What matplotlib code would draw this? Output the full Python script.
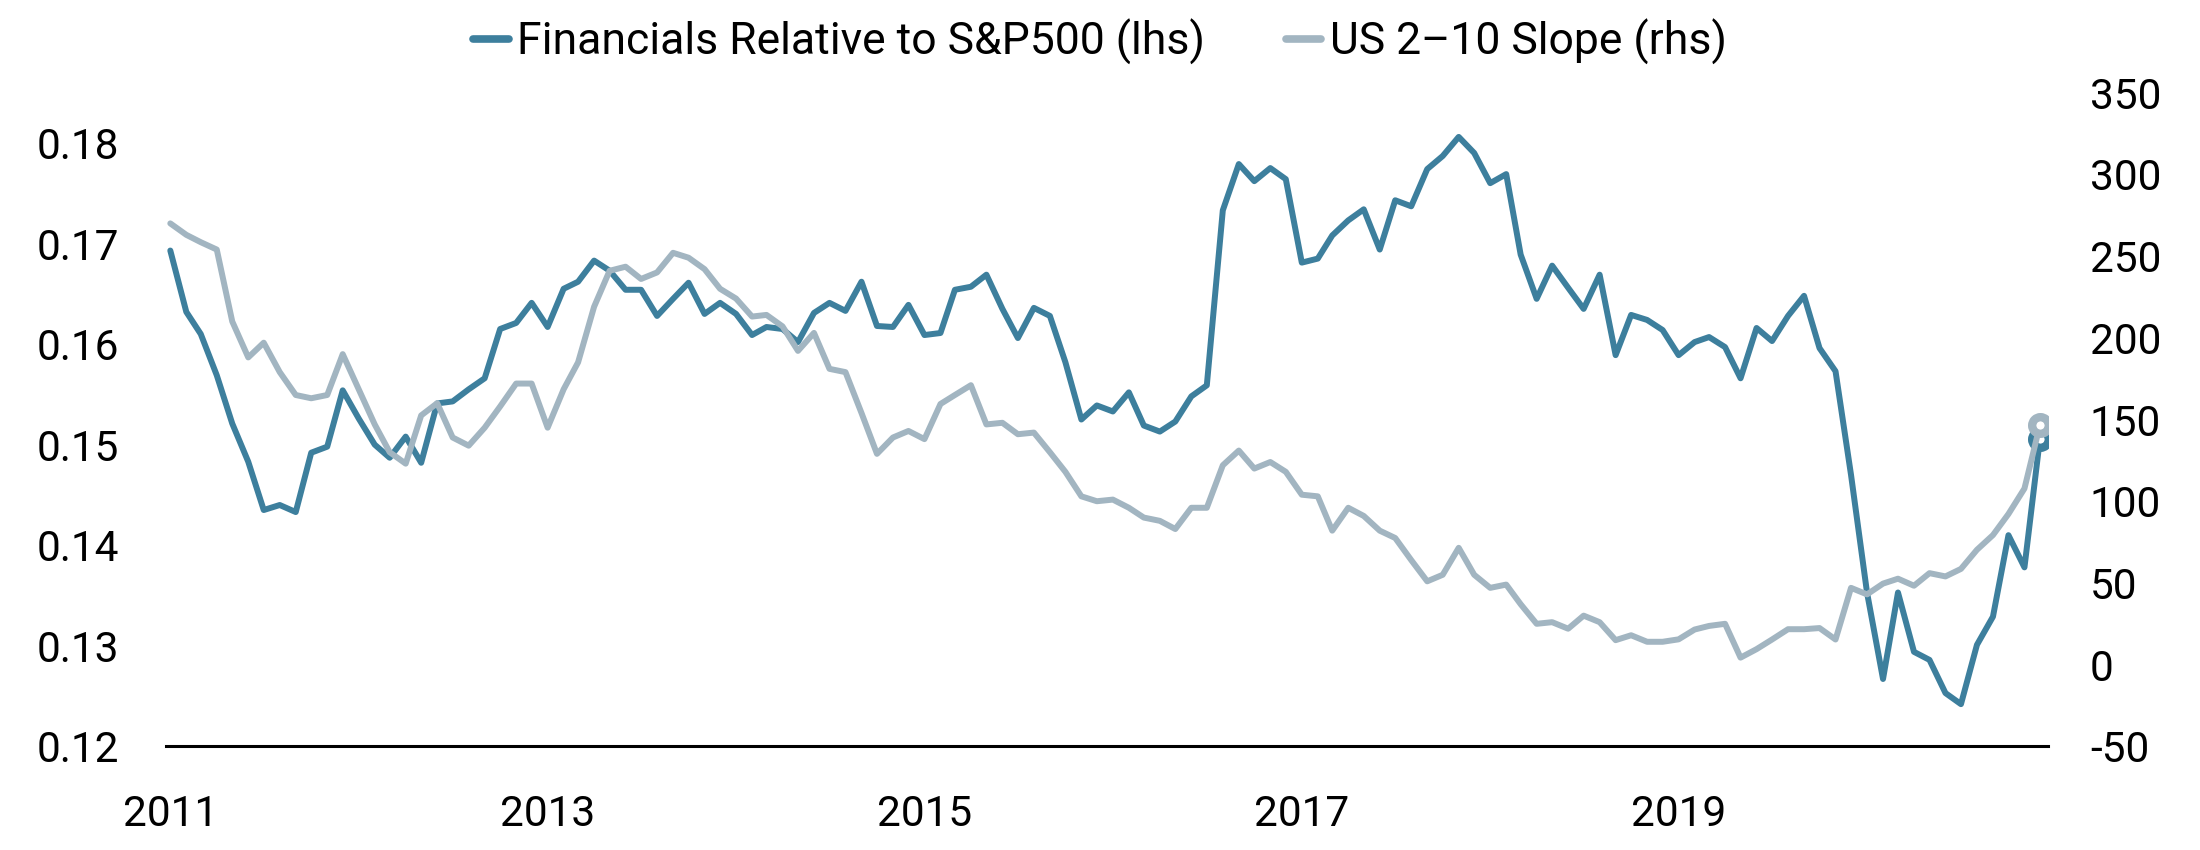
import matplotlib
matplotlib.use('Agg')
import matplotlib.pyplot as plt
from matplotlib.lines import Line2D
import pandas as pd

plt.rcParams['font.family'] = ['Roboto', 'DejaVu Sans']

# ---------------- data (monthly, Jan 2011 onward) ----------------
start_month = '2011-01-01'

financials_rel = [
    0.1693, 0.1632, 0.1610, 0.1569, 0.1521, 0.1483, 0.1435, 0.1440, 0.1433, 0.1492, 0.1498, 0.1554,  # 2011
    0.1526, 0.1500, 0.1487, 0.1508, 0.1482, 0.1541, 0.1543, 0.1555, 0.1566, 0.1615, 0.1621, 0.1641,  # 2012
    0.1617, 0.1655, 0.1662, 0.1683, 0.1673, 0.1654, 0.1654, 0.1628, 0.1645, 0.1661, 0.1630, 0.1641,  # 2013
    0.1630, 0.1609, 0.1617, 0.1615, 0.1602, 0.1631, 0.1641, 0.1633, 0.1662, 0.1618, 0.1617, 0.1639,  # 2014
    0.1609, 0.1611, 0.1654, 0.1657, 0.1669, 0.1635, 0.1606, 0.1636, 0.1628, 0.1582, 0.1525, 0.1539,  # 2015
    0.1533, 0.1552, 0.1519, 0.1513, 0.1523, 0.1548, 0.1559, 0.1733, 0.1779, 0.1762, 0.1775, 0.1764,  # 2016
    0.1681, 0.1685, 0.1708, 0.1723, 0.1734, 0.1694, 0.1743, 0.1737, 0.1774, 0.1787, 0.1806, 0.1790,  # 2017
    0.1760, 0.1769, 0.1689, 0.1645, 0.1678, 0.1656, 0.1635, 0.1669, 0.1589, 0.1629, 0.1624, 0.1614,  # 2018
    0.1589, 0.1602, 0.1607, 0.1597, 0.1566, 0.1616, 0.1603, 0.1628, 0.1648, 0.1596, 0.1573, 0.1470,  # 2019
    0.1353, 0.1267, 0.1353, 0.1294, 0.1286, 0.1253, 0.1242, 0.1301, 0.1329, 0.1410, 0.1378, 0.1506,  # 2020
]

us_2_10_slope = [
    270, 263, 258.5, 254, 210, 188, 197, 179, 165, 163, 165, 190,       # 2011
    168.5, 147, 130, 123, 152.5, 160, 139, 134, 145, 158, 172, 172,     # 2012
    145, 168.5, 185, 219, 241, 243.5, 236, 240, 252, 249, 242, 230,     # 2013
    224, 213, 214, 207, 192, 203, 181, 179, 154, 129, 139, 143,         # 2014
    138, 159.5, 165, 171, 147, 148, 141, 142, 130, 118, 103, 100,       # 2015
    101, 96, 90, 88, 83, 96, 96, 122, 131, 120, 124, 118,               # 2016
    104, 103, 82, 96, 91, 82, 77.5, 64, 51, 55, 71.5, 55,               # 2017
    47, 49, 37, 25, 26, 22, 30, 26, 15, 18, 14, 14,                     # 2018
    15.5, 21.5, 23.7, 25, 4.3, 9.5, 15.4, 21.7, 21.7, 22.4, 15.4, 47,   # 2019
    43, 49.6, 52.6, 48.3, 56, 54, 58.6, 70.3, 79.3, 92.2, 107.8, 146.6, # 2020
]

series_labels = ['Financials Relative to S&P500 (lhs)', 'US 2\u201310 Slope (rhs)']
x_tick_years = [2011, 2013, 2015, 2017, 2019]
left_ticks = [0.12, 0.13, 0.14, 0.15, 0.16, 0.17, 0.18]
right_ticks = [-50, 0, 50, 100, 150, 200, 250, 300, 350]

# ---------------- style ----------------
DARK = '#3d7f9d'
GREY = '#a2b5c1'
FS = 30.5
LW = 4.3

dates = pd.date_range(start_month, periods=len(financials_rel), freq='MS')

fig = plt.figure(figsize=(22, 8.5), dpi=100)
ax = fig.add_axes([0.0753, 0.1219, 0.931 - 0.0753, 0.891 - 0.1219])
ax2 = ax.twinx()

last = len(financials_rel) - 1
ax.plot(dates, financials_rel, color=DARK, lw=LW, solid_capstyle='round',
        marker='o', markevery=[last], markersize=12, markerfacecolor='white',
        markeredgecolor=DARK, markeredgewidth=6)
ax2.plot(dates, us_2_10_slope, color=GREY, lw=LW, solid_capstyle='round',
         marker='o', markevery=[last], markersize=12, markerfacecolor='white',
         markeredgecolor=GREY, markeredgewidth=6)

ax.set_xlim(pd.Timestamp('2010-12-23'), pd.Timestamp('2020-12-17'))
ax.set_ylim(0.12, 0.185)
ax2.set_ylim(-50, 350)

ax.set_yticks(left_ticks)
ax.set_yticklabels([f'{v:.2f}' for v in left_ticks])
ax2.set_yticks(right_ticks)
ax2.set_yticklabels([str(v) for v in right_ticks])
ax.set_xticks([pd.Timestamp(f'{y}-01-01') for y in x_tick_years])
ax.set_xticklabels([str(y) for y in x_tick_years])

ax.tick_params(axis='y', length=0, pad=33.5, labelsize=FS, labelcolor='black')
ax2.tick_params(axis='y', length=0, pad=30, labelsize=FS, labelcolor='black')
ax.tick_params(axis='x', length=0, pad=34, labelsize=FS, labelcolor='black')

for s in ['top', 'left', 'right']:
    ax.spines[s].set_visible(False)
for s in ax2.spines.values():
    s.set_visible(False)
ax.spines['bottom'].set_color('black')
ax.spines['bottom'].set_linewidth(2.2)

handles = [Line2D([], [], color=DARK, lw=5.5, solid_capstyle='round'),
           Line2D([], [], color=GREY, lw=5.5, solid_capstyle='round')]
fig.legend(handles, series_labels, loc='center', bbox_to_anchor=(0.5, 0.9506),
           ncol=2, frameon=False, fontsize=32, handlelength=0.8,
           handletextpad=0.2, columnspacing=1.8)

fig.savefig('out.png', dpi=100)
